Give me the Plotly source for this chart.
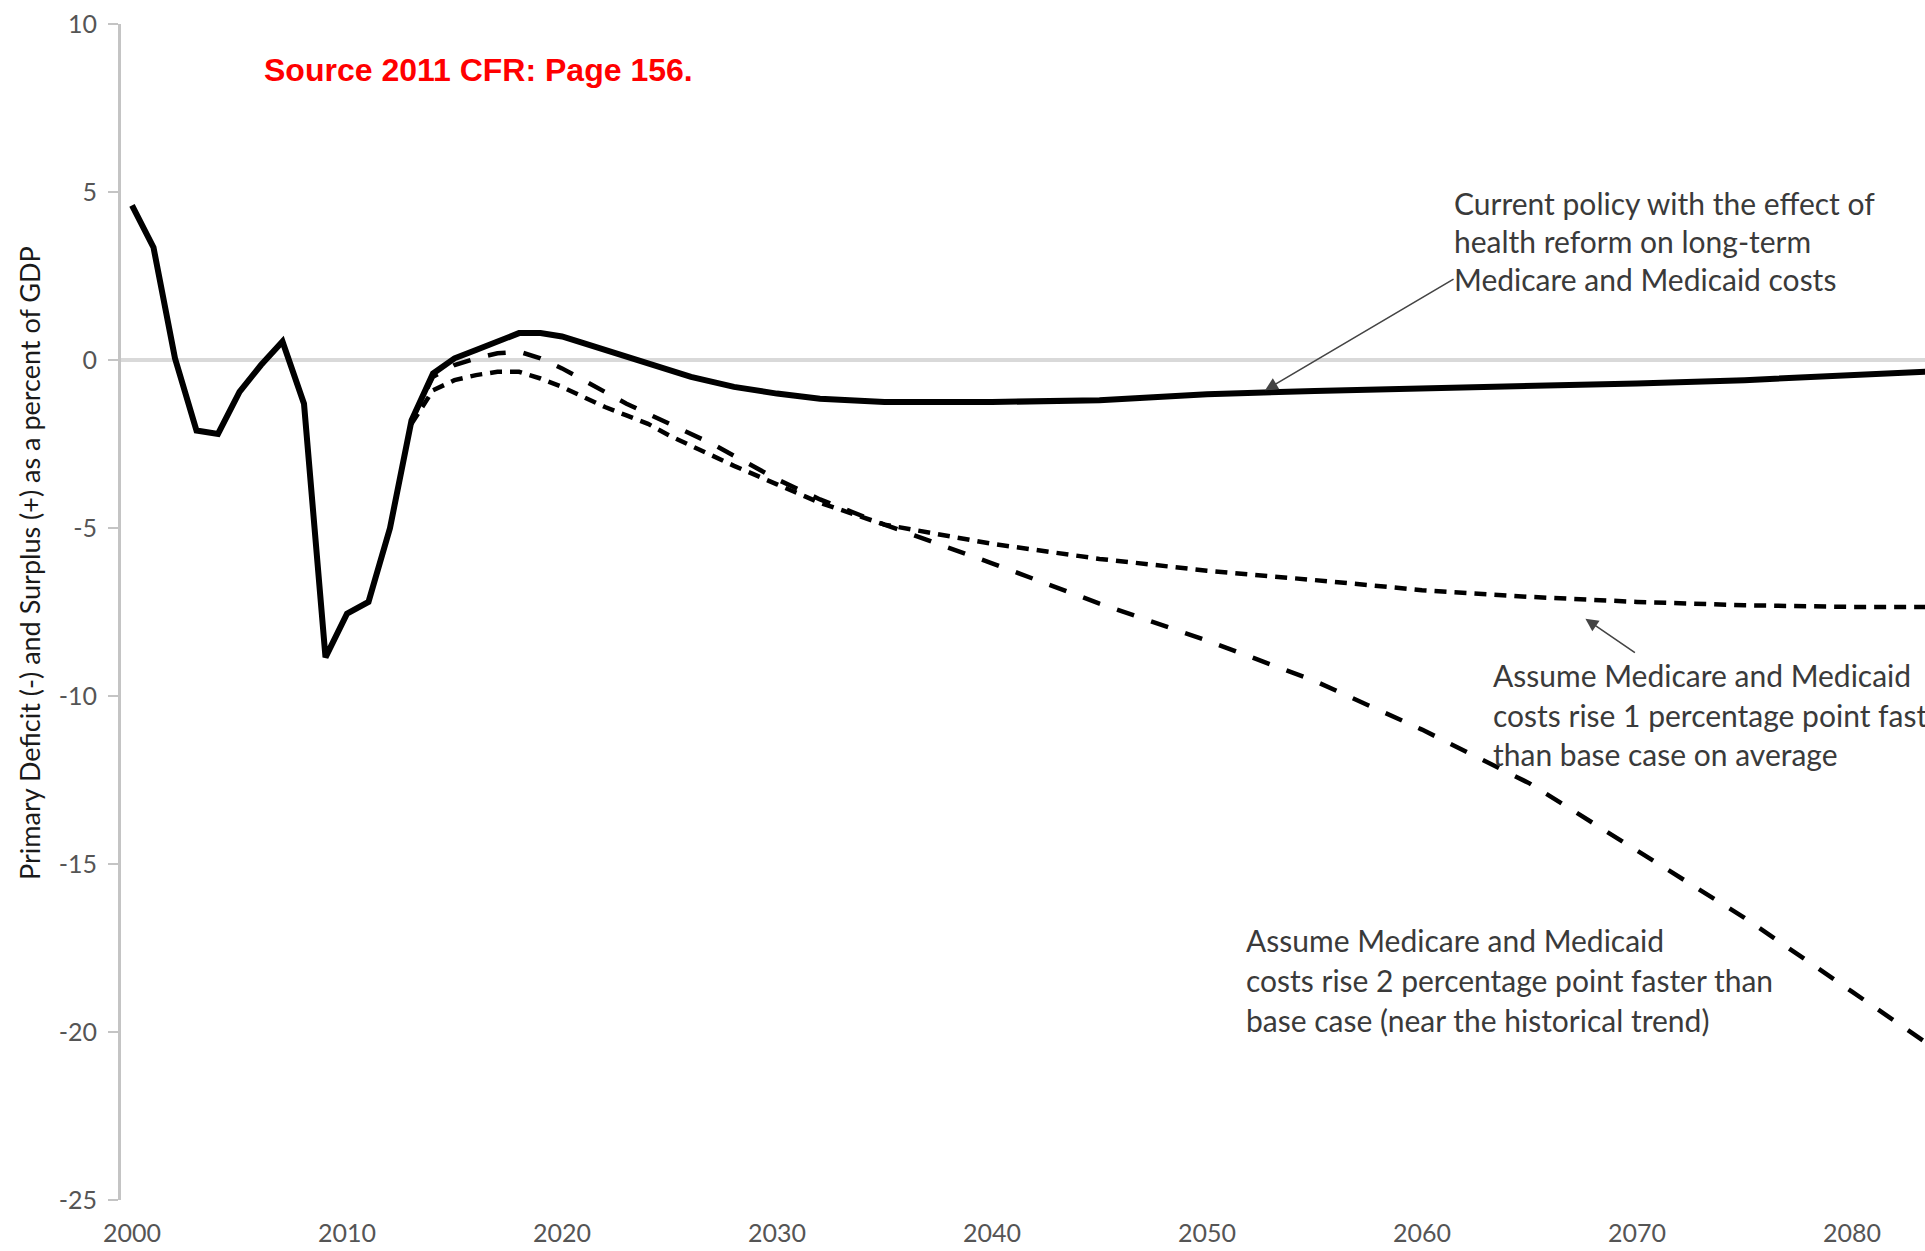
import plotly.graph_objects as go

# ---------------- data ----------------
years_base = [2000, 2001, 2002, 2003, 2004, 2005, 2006, 2007, 2008, 2009,
              2010, 2011, 2012, 2013, 2014, 2015, 2016, 2017, 2018, 2019,
              2020, 2021, 2022, 2023, 2024, 2025, 2026, 2027, 2028, 2030,
              2032, 2035, 2040, 2045, 2050, 2055, 2060, 2065, 2070, 2075,
              2080, 2085]
base = [4.6, 3.35, 0.05, -2.1, -2.2, -0.95, -0.15, 0.55, -1.3, -8.85,
        -7.55, -7.2, -5.0, -1.8, -0.4, 0.05, 0.3, 0.55, 0.8, 0.8,
        0.7, 0.5, 0.3, 0.1, -0.1, -0.3, -0.5, -0.65, -0.8, -1.0,
        -1.15, -1.25, -1.25, -1.2, -1.02, -0.92, -0.86, -0.78, -0.7, -0.6,
        -0.45, -0.3]

years_alt = [2013, 2014, 2015, 2016, 2017, 2018, 2019, 2020, 2021, 2022,
             2023, 2024, 2025, 2026, 2027, 2028, 2030, 2032, 2035, 2040,
             2045, 2050, 2055, 2060, 2065, 2070, 2075, 2080, 2085]
alt_1pt = [-1.9, -0.9, -0.6, -0.45, -0.35, -0.35, -0.55, -0.8, -1.1, -1.4,
           -1.65, -1.9, -2.25, -2.55, -2.85, -3.15, -3.7, -4.25, -4.9, -5.47,
           -5.92, -6.27, -6.55, -6.85, -7.05, -7.2, -7.3, -7.35, -7.35]
alt_2pt = [-1.8, -0.5, -0.15, 0.05, 0.2, 0.25, 0.05, -0.25, -0.6, -0.95,
           -1.3, -1.6, -1.9, -2.2, -2.5, -2.85, -3.55, -4.15, -4.9, -6.05,
           -7.25, -8.35, -9.55, -11.0, -12.6, -14.6, -16.6, -18.8, -21.0]

x_ticks = [2000, 2010, 2020, 2030, 2040, 2050, 2060, 2070, 2080]
x_ticktext = ["2000", "2010", "2020", "2030", "2040", "2050", "2060", "2070", "2080"]
y_ticks = [10, 5, 0, -5, -10, -15, -20, -25]
y_ticktext = ["10", "5", "0", "-5", "-10", "-15", "-20", "-25"]

title_y = "Primary Deficit (-) and Surplus (+) as a percent of GDP"
source_text = "Source 2011 CFR: Page 156."
label_current = ["Current policy with the effect of",
                 "health reform on long-term",
                 "Medicare and Medicaid costs"]
label_1pt = ["Assume Medicare and Medicaid",
             "costs rise 1 percentage point faster",
             "than base case on average"]
label_2pt = ["Assume Medicare and Medicaid",
             "costs rise 2 percentage point faster than",
             "base case (near the historical trend)"]

# ---------------- layout geometry ----------------
W, H = 1925, 1251
ML, MR, MT, MB = 121, 0, 24, 51
PW, PH = W - ML - MR, H - MT - MB


def px_to_paper(px, py):
    return (px - ML) / PW, (H - MB - py) / PH


FONT = "Lato"
TXT_COLOR = "#3a3a3a"

fig = go.Figure()
fig.add_trace(go.Scatter(x=years_alt, y=alt_2pt, mode="lines",
                         line=dict(color="black", width=4.5, dash="18px,18px"),
                         showlegend=False, hoverinfo="skip"))
fig.add_trace(go.Scatter(x=years_alt, y=alt_1pt, mode="lines",
                         line=dict(color="black", width=4.5, dash="12px,8px"),
                         showlegend=False, hoverinfo="skip"))
fig.add_trace(go.Scatter(x=years_base, y=base, mode="lines",
                         line=dict(color="black", width=6),
                         showlegend=False, hoverinfo="skip"))

annotations = []

# y axis title
xp, yp = px_to_paper(29, 563)
annotations.append(dict(text=title_y, xref="paper", yref="paper", x=xp, y=yp,
                        textangle=-90, showarrow=False, xanchor="center", yanchor="middle",
                        font=dict(family=FONT, size=27, color="#1a1a1a")))

# red source text
xp, yp = px_to_paper(478, 70)
annotations.append(dict(text="<b>" + source_text + "</b>", xref="paper", yref="paper",
                        x=xp, y=yp, showarrow=False, xanchor="center", yanchor="middle",
                        font=dict(family="Liberation Sans", size=32, color="#ff0000")))


def add_lines(lines, x0, ys):
    for t, yy in zip(lines, ys):
        xp, yp = px_to_paper(x0, yy)
        annotations.append(dict(text=t, xref="paper", yref="paper", x=xp, y=yp,
                                showarrow=False, xanchor="left", yanchor="middle",
                                font=dict(family=FONT, size=30, color=TXT_COLOR)))


add_lines(label_current, 1452, [203, 241, 279])
add_lines(label_1pt, 1491, [675, 715, 754])
add_lines(label_2pt, 1244, [940, 980, 1020])

# arrows
annotations.append(dict(x=2052.7, y=-0.9, xref="x", yref="y", text="", showarrow=True,
                        ax=190, ay=-112, arrowhead=2, arrowsize=1.6, arrowwidth=1.6,
                        arrowcolor="#444444"))
annotations.append(dict(x=2067.6, y=-7.7, xref="x", yref="y", text="", showarrow=True,
                        ax=51, ay=35, arrowhead=2, arrowsize=1.6, arrowwidth=1.6,
                        arrowcolor="#444444"))

x0 = 2000 - 11 / 21.5
x1 = x0 + PW / 21.5

fig.update_layout(
    width=W, height=H,
    margin=dict(l=ML, r=MR, t=MT, b=MB, pad=0),
    plot_bgcolor="white", paper_bgcolor="white",
    annotations=annotations,
    xaxis=dict(range=[x0, x1], tickvals=x_ticks, ticktext=x_ticktext,
               showgrid=False, zeroline=False, showline=False, ticks="",
               ticklabelstandoff=16,
               tickfont=dict(family=FONT, size=25, color="#555555")),
    yaxis=dict(range=[-25, 10], tickvals=y_ticks, ticktext=y_ticktext,
               showgrid=False, zeroline=True, zerolinecolor="#d9d9d9", zerolinewidth=4,
               showline=True, linecolor="#c4c4c4", linewidth=3,
               ticks="outside", ticklen=10, tickwidth=2, tickcolor="#c4c4c4",
               ticklabelstandoff=6,
               tickfont=dict(family=FONT, size=25, color="#555555")),
)

fig.write_html("out.html", config={"displayModeBar": False},
               post_script="document.body.style.margin='0px';")
